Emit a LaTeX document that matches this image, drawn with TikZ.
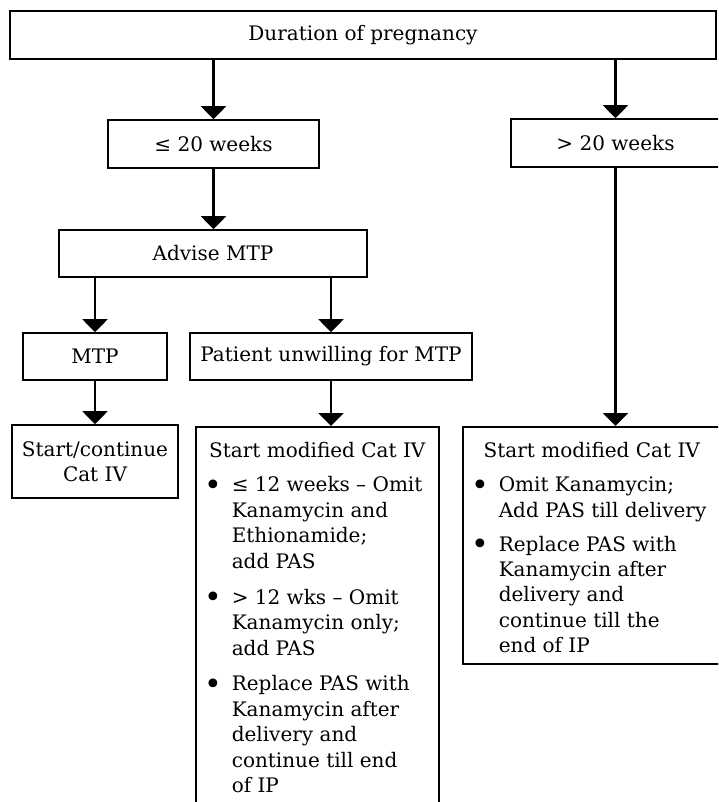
\documentclass[tikz,border=0pt]{standalone}
\usepackage{fontspec}
\setmainfont{DejaVu Serif}
\usetikzlibrary{arrows.meta}

\newenvironment{regimen}[1]{%
  \begin{list}{\raisebox{-3.5pt}{\scalebox{1.5}{\textbullet}}}{%
    \setlength{\leftmargin}{28pt}\setlength{\labelwidth}{18pt}%
    \setlength{\labelsep}{10pt}\setlength{\topsep}{8.5pt}%
    \setlength{\partopsep}{0pt}\setlength{\parsep}{0pt}%
    \setlength{\itemsep}{#1}}\raggedright}
  {\end{list}}

\begin{document}
\begin{tikzpicture}[
    x=1pt, y=-1pt,
    font=\fontsize{20}{25.5}\selectfont,
    box/.style={draw, line width=1.6pt, minimum height=48pt, inner sep=0pt,
                align=center},
    catbox/.style={draw, line width=1.6pt, anchor=north west,
                   inner xsep=8pt, inner ysep=16pt},
    ar/.style={line width=2.2pt, -{Triangle[width=25pt, length=13pt]}},
  ]
  \useasboundingbox (0,0) rectangle (718,802);
  \clip (0,0) rectangle (718,802);

  % ---- duration
  \node[box, minimum width=706pt] (dur) at (363,35) {Duration of pregnancy};
  \node[box, minimum width=211pt] (le20) at (213.5,144) {≤ 20 weeks};
  \node[box, minimum width=209pt] (gt20) at (615.5,143) {> 20 weeks};

  \draw[ar] (le20.north |- dur.south) -- (le20.north);
  \draw[ar] (gt20.north |- dur.south) -- (gt20.north);

  % ---- up to 20 weeks
  \node[box, minimum width=308pt, minimum height=47pt] (advise) at (213,253.5) {Advise MTP};
  \node[box, minimum width=144pt, minimum height=47pt] (mtp) at (95,356.5) {MTP};
  \node[box, minimum width=282pt, minimum height=47pt] (unwill) at (331,356.5)
    {Patient unwilling for MTP};
  \node[box, minimum width=166pt, minimum height=73pt] (start) at (95,461.5)
    {Start/continue\\Cat IV};

  \draw[ar] (le20.south) -- (le20.south |- advise.north);
  \draw[ar] (mtp.north |- advise.south) -- (mtp.north);
  \draw[ar] (unwill.north |- advise.south) -- (unwill.north);
  \draw[ar] (mtp.south) -- (start.north);

  % ---- modified regimens
  \node[catbox] (modA) at (195,426) {\parbox[t][360pt][t]{227pt}{%
    {\centering Start modified Cat IV\par}
    \begin{regimen}{10pt}
      \item ≤ 12 weeks – Omit\\Kanamycin and\\Ethionamide;\\add PAS
      \item > 12 wks – Omit\\Kanamycin only;\\add PAS
      \item Replace PAS with\\Kanamycin after\\delivery and\\continue till end\\of IP
    \end{regimen}}};
  \node[catbox] (modB) at (462,426) {\parbox[t][205pt][t]{242pt}{%
    {\centering Start modified Cat IV\par}
    \begin{regimen}{8pt}
      \item Omit Kanamycin;\\Add PAS till delivery
      \item Replace PAS with\\Kanamycin after\\delivery and\\continue till the\\end of IP
    \end{regimen}}};

  \draw[ar] (unwill.south) -- (unwill.south |- modA.north);
  \draw[ar] (gt20.south) -- (gt20.south |- modB.north);
\end{tikzpicture}
\end{document}
